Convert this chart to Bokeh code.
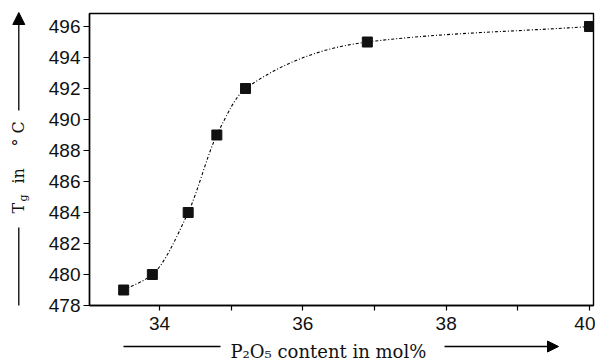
import math
import numpy as np
from bokeh.plotting import figure
from bokeh.layouts import row, column
from bokeh.models import Range1d, FixedTicker, Label, Arrow, NormalHead
from bokeh.embed import file_html
from bokeh.resources import INLINE

# ---- data ----
p2o5 = [33.5, 33.9, 34.4, 34.8, 35.2, 36.9, 40.0]
tg = [479, 480, 484, 489, 492, 495, 496]
x_major_ticks = [34, 36, 38, 40]
x_minor_ticks = [33, 35, 37, 39]
y_ticks = [478, 480, 482, 484, 486, 488, 490, 492, 494, 496]
x_title = "P\u2082O\u2085 content in mol%"
y_title_parts = ["T", "g", "in", "\u00b0 C"]

# ---- layout sizes ----
W, H = 595, 363
LS_W = 40            # left strip (y title)
BS_H = 27            # bottom strip (x title)
MAIN_W, MAIN_H = W - LS_W, H - BS_H
x0, x1 = 33.023, 40.056
y0, y1 = 478.0, 496.84

def no_frame_align(fig):
    if "frame_align" in fig.properties():
        fig.frame_align = False

p = figure(width=MAIN_W, height=MAIN_H, x_range=Range1d(x0, x1), y_range=Range1d(y0, y1),
           output_backend="svg", toolbar_location=None,
           min_border_left=89 - LS_W, min_border_right=2, min_border_top=13, min_border_bottom=MAIN_H - 305)
no_frame_align(p)

p.xgrid.visible = False
p.ygrid.visible = False
p.outline_line_color = "black"
p.outline_line_width = 1.4
p.background_fill_color = "white"
p.border_fill_color = "white"

xa = p.xaxis[0]
xa.ticker = FixedTicker(ticks=x_major_ticks, minor_ticks=x_minor_ticks)
xa.major_tick_out = 5
xa.major_tick_in = 0
xa.minor_tick_out = 5
xa.minor_tick_in = 0
xa.major_label_standoff = 6

ya = p.yaxis[0]
ya.ticker = FixedTicker(ticks=y_ticks, minor_ticks=[])
ya.major_tick_out = 6
ya.major_tick_in = 0
ya.minor_tick_out = 0
ya.major_label_standoff = 3

for ax in (xa, ya):
    ax.axis_line_color = "black"
    ax.axis_line_width = 1.4
    ax.major_tick_line_color = "black"
    ax.minor_tick_line_color = "black"
    ax.major_tick_line_width = 1.2
    ax.minor_tick_line_width = 1.2
    ax.major_label_text_font = "Liberation Sans"
    ax.major_label_text_font_size = "19px"
    ax.major_label_text_color = "#111111"

# ---- smooth monotone curve through the points (drawn as Bezier segments) ----
xs = np.array(p2o5, dtype=float)
ys = np.array(tg, dtype=float)
h = np.diff(xs)
d = np.diff(ys) / h
m = np.zeros_like(xs)
m[0] = d[0]
m[-1] = d[-1]
for k in range(1, len(xs) - 1):
    if d[k - 1] * d[k] <= 0:
        m[k] = 0.0
    else:
        w1 = 2 * h[k] + h[k - 1]
        w2 = h[k] + 2 * h[k - 1]
        m[k] = (w1 + w2) / (w1 / d[k - 1] + w2 / d[k])

p.bezier(x0=xs[:-1], y0=ys[:-1], x1=xs[1:], y1=ys[1:],
         cx0=xs[:-1] + h / 3, cy0=ys[:-1] + m[:-1] * h / 3,
         cx1=xs[1:] - h / 3, cy1=ys[1:] - m[1:] * h / 3,
         line_color="black", line_width=1.1, line_dash="3 2 1 2")

p.scatter(p2o5, tg, marker="square", size=10, fill_color="#111111", line_color="#111111")

serif = "DejaVu Serif"

def strip(w, hgt):
    s = figure(width=w, height=hgt, x_range=Range1d(0, w), y_range=Range1d(0, hgt),
               output_backend="svg", toolbar_location=None,
               x_axis_location=None, y_axis_location=None,
               min_border_left=0, min_border_right=0, min_border_top=0, min_border_bottom=0)
    no_frame_align(s)
    s.xgrid.visible = False
    s.ygrid.visible = False
    s.outline_line_color = None
    s.background_fill_color = "white"
    s.border_fill_color = "white"
    return s

# ---- left strip: rotated y title with arrow; positions given as canvas pixels from the top ----
ls = strip(LS_W, MAIN_H)
def fy(py):
    return MAIN_H - py
def ylab(x, py, t, size):
    ls.add_layout(Label(x=x, y=fy(py), text=t, angle=math.pi / 2,
                        text_align="left", text_baseline="alphabetic",
                        text_font=serif, text_font_size=size, text_color="#111111"))
ylab(17.5, 213, y_title_parts[0], "16px")
ylab(22.5, 201, y_title_parts[1], "11px")
ylab(17.5, 183, y_title_parts[2], "16px")
ylab(17.5, 146, y_title_parts[3], "16px")
ls.add_layout(Arrow(x_start=18.3, y_start=fy(305), x_end=18.3, y_end=fy(227),
                    end=None, line_color="black", line_width=1.3))
ls.add_layout(Arrow(x_start=18.3, y_start=fy(110), x_end=18.3, y_end=fy(12),
                    end=NormalHead(size=12, fill_color="black", line_color="black"),
                    line_color="black", line_width=1.3))

# ---- bottom strip: x title with arrow ----
bs = strip(W, BS_H)
def by(py):
    return H - py
bs.add_layout(Label(x=230, y=by(351), text=x_title,
                    text_align="left", text_baseline="alphabetic",
                    text_font=serif, text_font_size="18px", text_color="#111111"))
bs.add_layout(Arrow(x_start=123, y_start=by(346), x_end=220, y_end=by(346),
                    end=None, line_color="black", line_width=1.3))
bs.add_layout(Arrow(x_start=444, y_start=by(346), x_end=558, y_end=by(346),
                    end=NormalHead(size=11, fill_color="black", line_color="black"),
                    line_color="black", line_width=1.3))

layout = column(row(ls, p, spacing=0), bs, spacing=0)
open("out.html", "w").write(file_html(layout, INLINE))
